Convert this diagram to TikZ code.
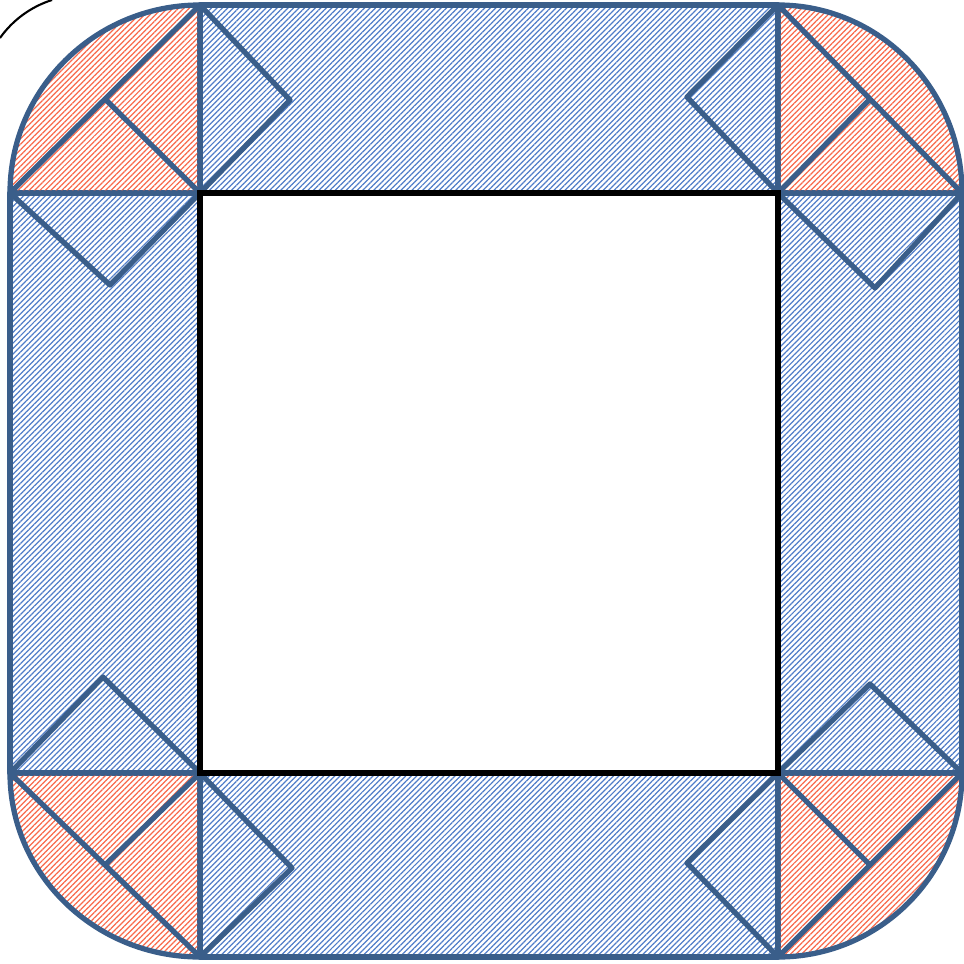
\documentclass[tikz,border=0pt]{standalone}
\usepackage{xcolor}
\usetikzlibrary{patterns.meta,calc}
\definecolor{edgeblue}{RGB}{58,94,138}
\definecolor{hatchblue}{RGB}{80,125,200}
\definecolor{hatchred}{RGB}{248,105,75}
\begin{document}
\begin{tikzpicture}[
  blueband/.style={pattern={Lines[angle=45,distance=1.1pt,line width=0.35pt]},pattern color=hatchblue},
  redcorner/.style={pattern={Lines[angle=45,distance=1.1pt,line width=0.35pt]},pattern color=hatchred},
  edge/.style={draw=edgeblue,line width=1.5pt,line join=round}]
\useasboundingbox (0,0) rectangle (9.64,9.63);
\coordinate (itl) at (2.00,7.70);
\coordinate (itr) at (7.78,7.70);
\coordinate (ibl) at (2.00,1.90);
\coordinate (ibr) at (7.78,1.90);
\coordinate (otl) at (2.00,9.58);
\coordinate (otr) at (7.78,9.58);
\coordinate (obl) at (2.00,0.06);
\coordinate (obr) at (7.78,0.06);
\coordinate (ltl) at (0.10,7.70);
\coordinate (lbl) at (0.10,1.90);
\coordinate (rtr) at (9.62,7.70);
\coordinate (rbr) at (9.62,1.90);
\draw[line width=0.6pt] (0,9.25) .. controls (0.12,9.42) and (0.30,9.56) .. (0.52,9.63);
\path[blueband,edge] (itl) rectangle (otr);
\path[blueband,edge] (obl) rectangle (ibr);
\path[blueband,edge] (lbl) rectangle (itl);
\path[blueband,edge] (ibr) rectangle (rtr);
\path[redcorner,edge] (ltl) arc[start angle=180,end angle=90,x radius=1.90,y radius=1.88] -- (itl) -- cycle;
\path[redcorner,edge] (otr) arc[start angle=90,end angle=0,x radius=1.84,y radius=1.88] -- (itr) -- cycle;
\path[redcorner,edge] (rbr) arc[start angle=0,end angle=-90,x radius=1.84,y radius=1.84] -- (ibr) -- cycle;
\path[redcorner,edge] (obl) arc[start angle=270,end angle=180,x radius=1.90,y radius=1.84] -- (ibl) -- cycle;
\draw[edge] (ltl) -- (otl) ($(ltl)!0.5!(otl)$) -- (itl);
\draw[edge] (otr) -- (rtr) ($(otr)!0.5!(rtr)$) -- (itr);
\draw[edge] (rbr) -- (obr) ($(rbr)!0.5!(obr)$) -- (ibr);
\draw[edge] (lbl) -- (obl) ($(lbl)!0.5!(obl)$) -- (ibl);
\draw[edge] (otl) -- (2.90,8.63) -- (itl);
\draw[edge] (ltl) -- (1.10,6.78) -- (itl);
\draw[edge] (otr) -- (6.87,8.66) -- (itr);
\draw[edge] (itr) -- (8.75,6.75) -- (rtr);
\draw[edge] (lbl) -- (1.03,2.86) -- (ibl);
\draw[edge] (ibl) -- (2.92,0.95) -- (obl);
\draw[edge] (ibr) -- (8.70,2.79) -- (rbr);
\draw[edge] (ibr) -- (6.87,1.00) -- (obr);
\draw[line width=1.7pt,fill=white] (ibl) rectangle (itr);
\end{tikzpicture}
\end{document}
